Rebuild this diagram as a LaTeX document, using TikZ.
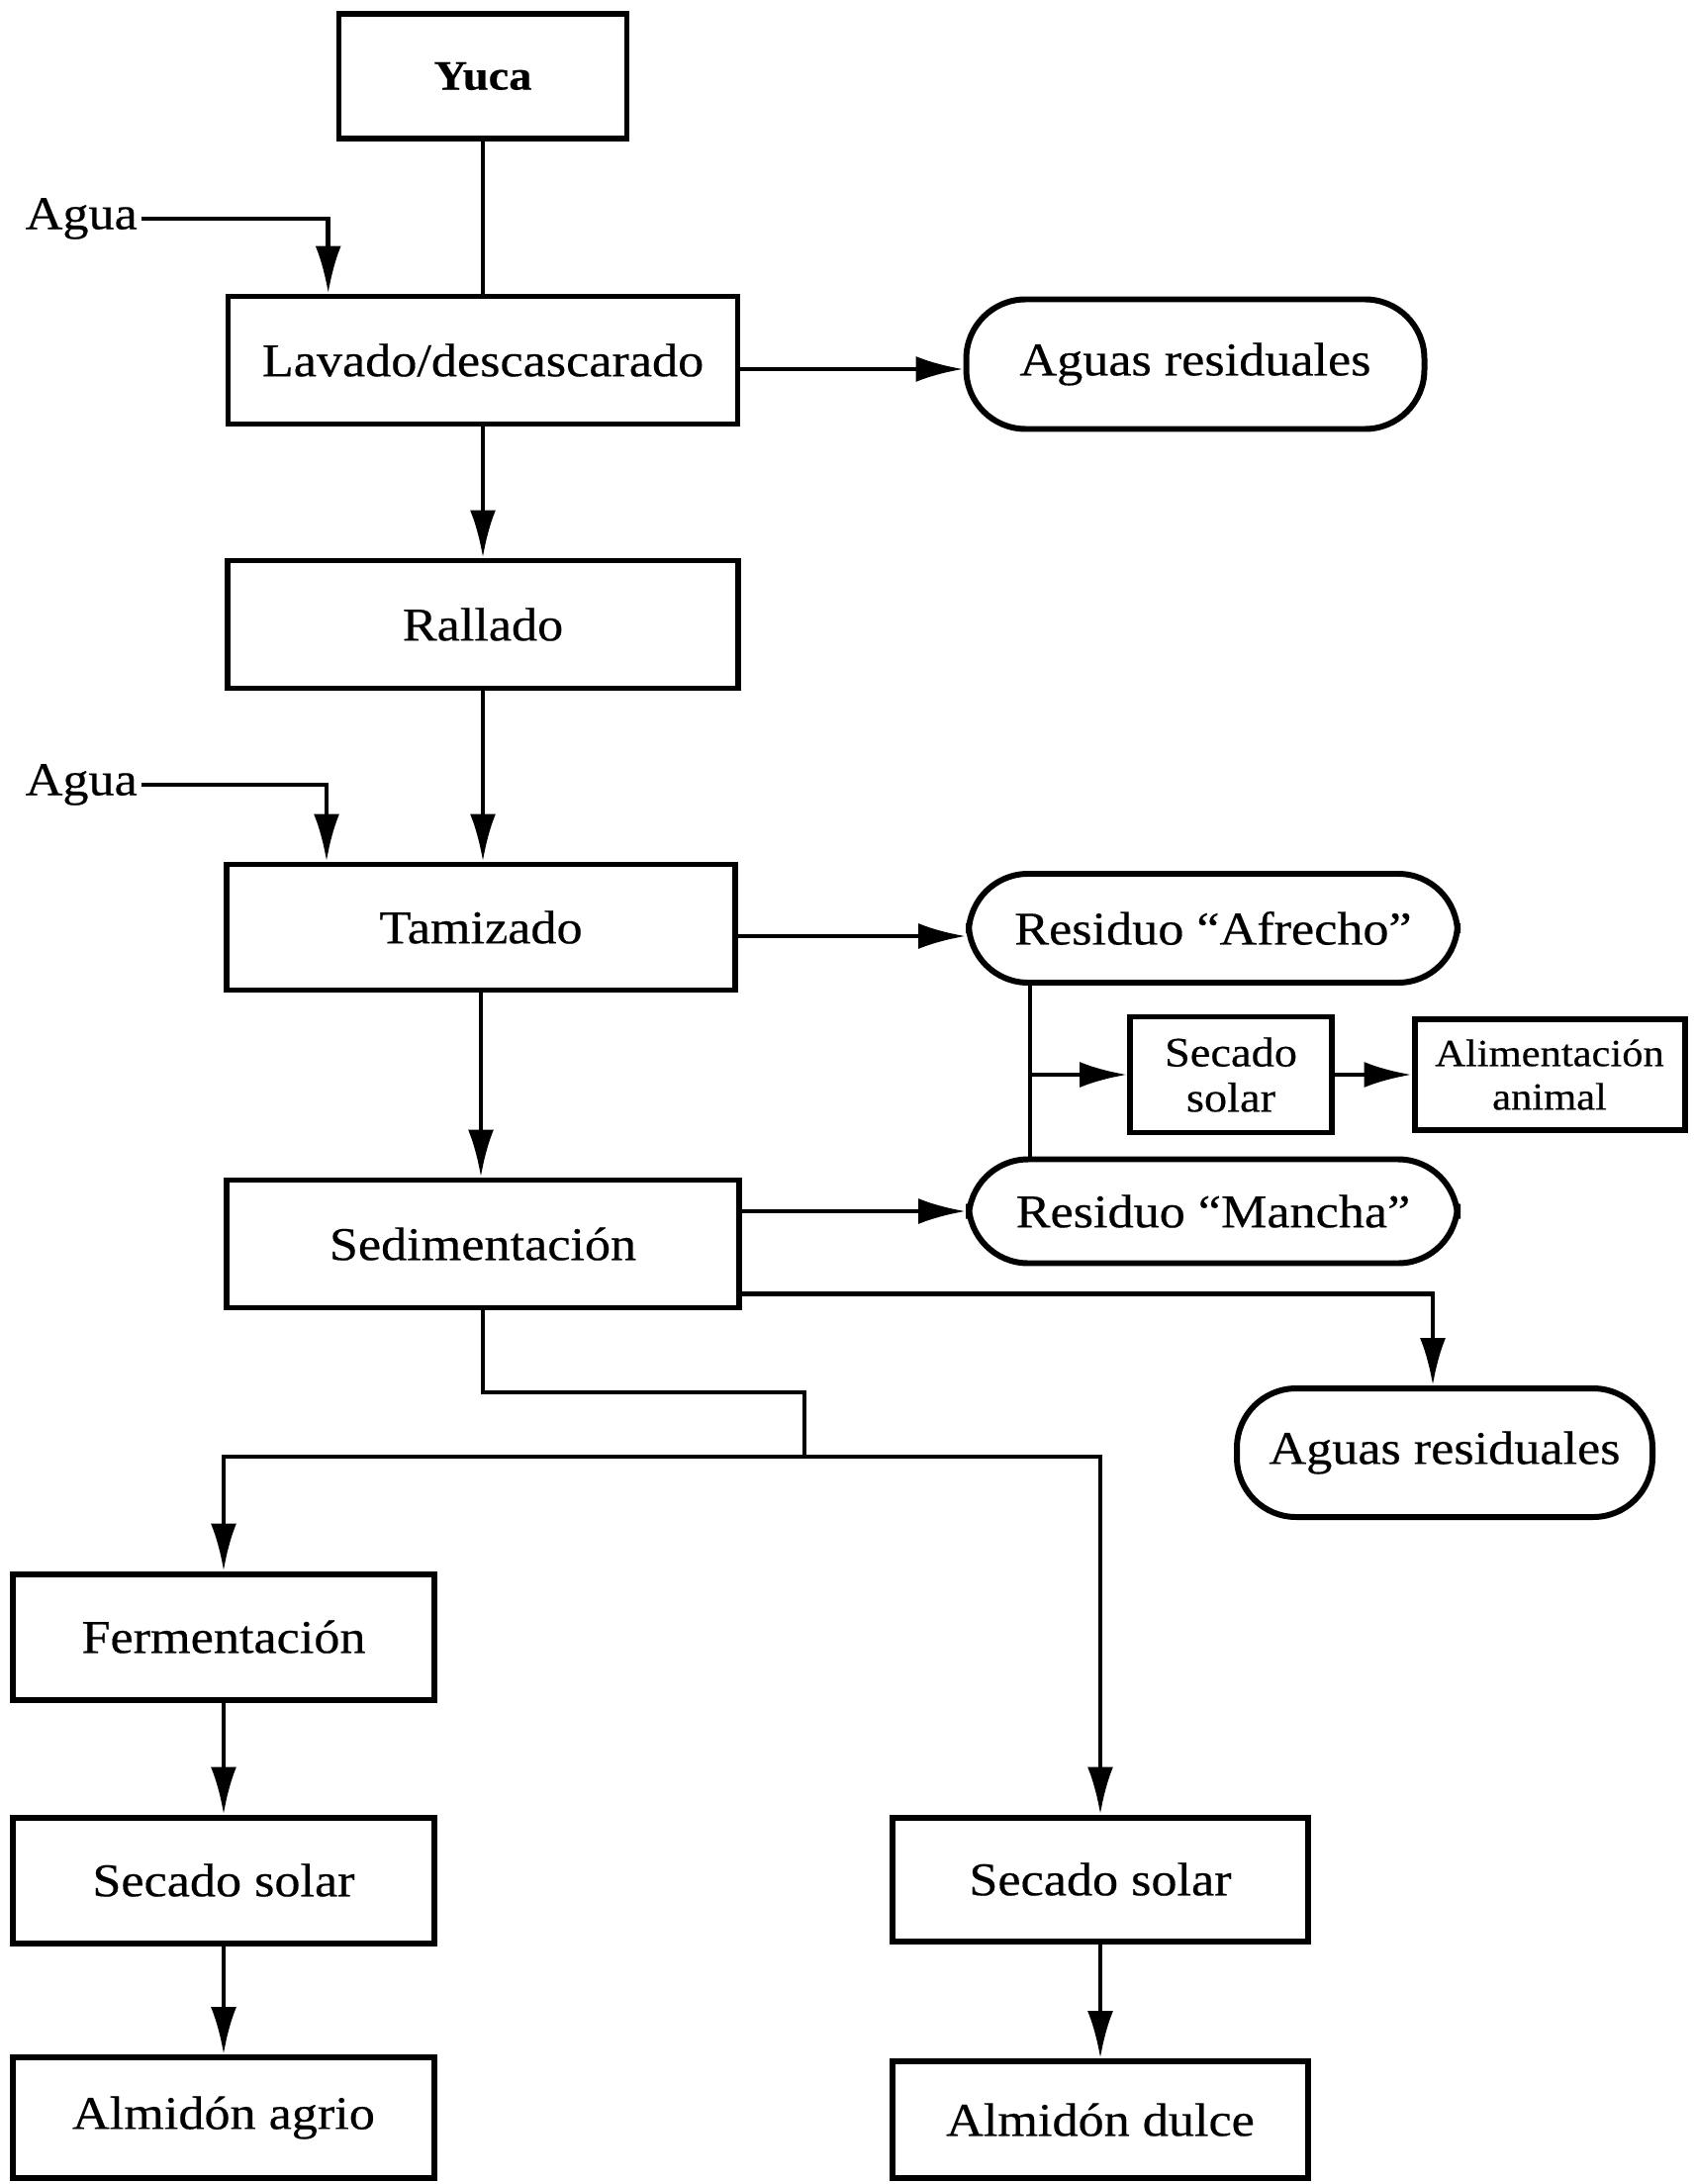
\documentclass[tikz,border=0pt]{standalone}
\usepackage{fontspec}
\setmainfont{Liberation Serif}[FakeStretch=1.1,FakeBold=0.4]
\usetikzlibrary{arrows.meta,calc}

\tikzset{
  box/.style={draw, line width=1.7pt, align=center, inner sep=2pt,
    font=\fontsize{13.5}{15.5}\selectfont},
  pill/.style={box, rounded corners=0.6cm},
  flow/.style={line width=1.3pt, -{Latex[length=4.8mm,width=2.6mm]}},
  link/.style={line width=1.3pt},
  inlet/.style={anchor=east, inner sep=1pt, font=\fontsize{13.5}{15.5}\selectfont}
}

\begin{document}
\begin{tikzpicture}[x=0.1mm, y=-0.1mm]
\useasboundingbox (0,0) rectangle (1712,2207);

% main line
\node[box, font=\bfseries\fontsize{12}{14}\selectfont, minimum width=2.91cm, minimum height=1.26cm] (yuca) at (488,77) {Yuca};
\node[box, minimum width=5.15cm, minimum height=1.29cm] (lavado) at (488,364) {Lavado/descascarado};
\node[box, minimum width=5.16cm, minimum height=1.29cm] (rallado) at (488,631) {Rallado};
\node[box, minimum width=5.14cm, minimum height=1.27cm] (tamizado) at (486,937) {Tamizado};
\node[box, minimum width=5.18cm, minimum height=1.29cm] (sedim) at (488,1257) {Sedimentación};

% side streams
\node[pill, minimum width=4.63cm, minimum height=1.31cm] (aguasA) at (1208,368) {Aguas residuales};
\node[pill, minimum width=4.94cm, minimum height=1.10cm] (afrecho) at (1226,938) {Residuo “Afrecho”};
\node[pill, minimum width=4.94cm, minimum height=1.05cm] (mancha) at (1226,1224) {Residuo “Mancha”};
\node[pill, minimum width=4.20cm, minimum height=1.30cm] (aguasB) at (1460,1468) {Aguas residuales};
\node[box, font=\fontsize{12}{13}\selectfont, minimum width=2.04cm, minimum height=1.17cm] (secsm) at (1244,1086) {Secado\\solar};
\node[box, font=\fontsize{11}{12.5}\selectfont, minimum width=2.73cm, minimum height=1.12cm] (alim) at (1566,1086) {Alimentación\\animal};

% products
\node[box, minimum width=4.26cm, minimum height=1.27cm] (ferm) at (226,1654) {Fermentación};
\node[box, minimum width=4.26cm, minimum height=1.27cm] (secL) at (226,1900) {Secado solar};
\node[box, minimum width=4.26cm, minimum height=1.22cm] (agrio) at (226,2140) {Almidón agrio};
\node[box, minimum width=4.20cm, minimum height=1.25cm] (secR) at (1112,1899) {Secado solar};
\node[box, minimum width=4.20cm, minimum height=1.18cm] (dulce) at (1112,2142) {Almidón dulce};

% water in
\node[inlet] (aguaA) at (143,221) {Agua};
\node[inlet] (aguaB) at (143,793) {Agua};

\coordinate (vline) at ([xshift=0.65cm]afrecho.south west);
\coordinate (jog) at (813,1407);
\coordinate (split) at (813,1472);

\draw[link] (yuca.south) -- (lavado.north);
\draw[flow] (aguaA.east) -| ($(lavado.north west)!0.2!(lavado.north east)$);
\draw[flow] (aguaB.east) -| ($(tamizado.north west)!0.2!(tamizado.north east)$);
\foreach \a/\b in {lavado/rallado, rallado/tamizado, tamizado/sedim, ferm/secL, secL/agrio, secR/dulce}
  \draw[flow] (\a.south) -- (\a.south |- \b.north);

\draw[flow] ([yshift=-0.09cm]lavado.east) -- ([yshift=-0.09cm]lavado.east -| aguasA.west);
\draw[flow] ([yshift=-0.09cm]tamizado.east) -- ([yshift=-0.09cm]tamizado.east -| afrecho.west);
\draw[flow] (sedim.east |- mancha.west) -- (mancha.west);
\draw[flow] ([yshift=0.17cm]sedim.south east) -| ([xshift=-0.12cm]aguasB.north);

\draw[link] (vline) -- (vline |- mancha.north);
\draw[flow] (vline |- secsm.west) -- (secsm.west);
\draw[flow] (secsm.east) -- (alim.west);

\draw[link] (sedim.south) |- (jog) -- (split);
\draw[flow] (split) -| (ferm.north);
\draw[flow] (split) -| (secR.north);
\end{tikzpicture}
\end{document}
